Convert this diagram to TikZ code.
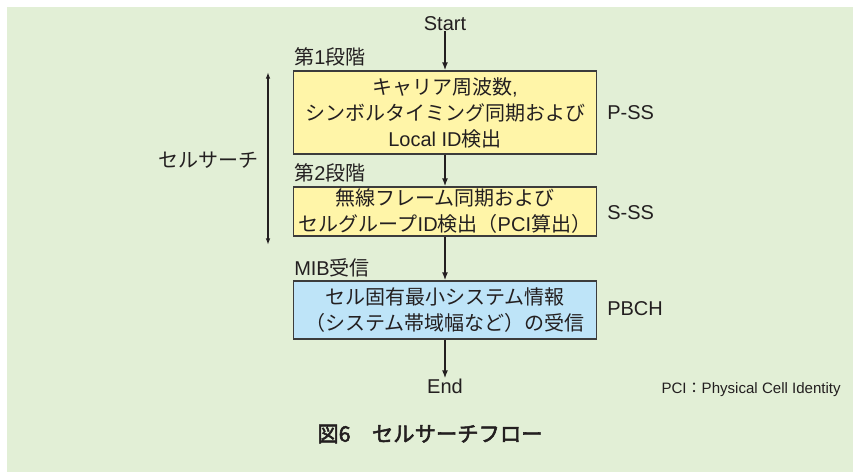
\documentclass[tikz,border=0pt]{standalone}
\usepackage{fontspec}
\setmainfont{Liberation Sans}
\newfontfamily\cjk{Noto Sans CJK JP}
\newfontfamily\cjkb{Noto Sans CJK JP}[FakeBold=2.5]
\usetikzlibrary{arrows.meta}
\newcommand{\jp}[1]{{\cjk #1}}
\definecolor{bggreen}{RGB}{226,239,214}
\definecolor{boxyellow}{RGB}{255,245,168}
\definecolor{boxblue}{RGB}{190,228,248}
\definecolor{inkgray}{RGB}{35,31,32}
\definecolor{edgegray}{RGB}{60,60,60}
\tikzset{
  stepbox/.style={draw=edgegray, line width=1pt, minimum width=303*0.75pt, align=center,
    text=inkgray, inner sep=0pt, font=\fontsize{15}{19.5}\selectfont},
  lbl/.style={text=inkgray, inner sep=0pt, font=\fontsize{15}{19.5}\selectfont},
  flow/.style={draw=inkgray, line width=1.3pt, -{Latex[length=6pt,width=4.5pt]}},
  span/.style={draw=inkgray, line width=1pt, {Latex[length=5pt,width=3.5pt]}-{Latex[length=5pt,width=3.5pt]}}
}
\begin{document}
\begin{tikzpicture}[x=0.75pt,y=-0.75pt]
\useasboundingbox (0,0) rectangle (853,472);
\fill[white] (0,0) rectangle (853,472);
\fill[bggreen] (7,7) rectangle (853,472);

\node[lbl] (start) at (445,24) {Start};
\node[stepbox, fill=boxyellow, minimum height=83*0.75pt] (b1) at (445,112.5)
  {\jp{キャリア周波数},\\\jp{シンボルタイミング同期および}\\Local ID\jp{検出}};
\node[stepbox, fill=boxyellow, minimum height=49*0.75pt] (b2) at (445,211.5)
  {\jp{無線フレーム同期および}\\\jp{セルグループ}ID\jp{検出（}PCI\jp{算出）}};
\node[stepbox, fill=boxblue, minimum height=58*0.75pt] (b3) at (445,310)
  {\jp{セル固有最小システム情報}\\\jp{（システム帯域幅など）の受信}};
\node[lbl] (end) at (445,386) {End};

\node[lbl, anchor=west] (l1) at (294,57) {\jp{第}1\jp{段階}};
\node[lbl, anchor=west] (l2) at (294,173) {\jp{第}2\jp{段階}};
\node[lbl, anchor=west] (l3) at (294,268) {MIB\jp{受信}};
\node[lbl, anchor=west] (pss) at (607,113) {P-SS};
\node[lbl, anchor=west] (sss) at (607,213) {S-SS};
\node[lbl, anchor=west] (pbch) at (607,309) {PBCH};
\node[lbl, anchor=east] (cs) at (259,160) {\jp{セルサーチ}};
\node[text=inkgray, inner sep=0pt, anchor=east, font=\fontsize{11.3}{13}\selectfont] (pci) at (841,390)
  {PCI\jp{：}Physical Cell Identity};
\node[text=inkgray, inner sep=0pt, font=\fontsize{16}{19}\selectfont] (cap) at (430,434)
  {\cjkb 図6\hspace{1em}セルサーチフロー};

\coordinate (st) at (268,72);
\coordinate (sb) at (268,245);
\draw[span] (st) -- (sb);

\draw[flow] (start) -- (b1);
\draw[flow] (b1) -- (b2);
\draw[flow] (b2) -- (b3);
\draw[flow] (b3) -- (end);
\end{tikzpicture}
\end{document}
